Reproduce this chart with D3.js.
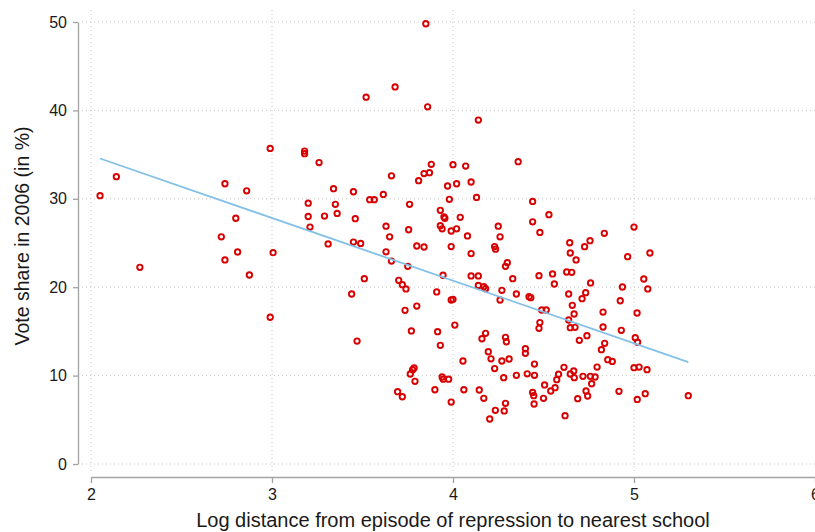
<!DOCTYPE html>
<html>
<head>
<meta charset="utf-8">
<script src="https://cdn.jsdelivr.net/npm/d3@7"></script>
<style>
  html, body { margin: 0; padding: 0; background: #fff; }
  svg { display: block; font-family: "Liberation Sans", Arial, Helvetica, sans-serif; }
</style>
</head>
<body>
<svg id="chart" width="815" height="532"></svg>
<script>
// Log distance to nearest school (x) and 2006 vote share in % (y), one entry per municipality
const logDistance = [
  2.99, 3.18, 3.18, 3.26, 2.14, 2.74, 2.86, 2.05, 3.20, 2.80, 3.20, 3.29, 3.21, 2.72,
  3.85, 3.68, 3.52, 3.86, 4.14, 4.36, 3.88, 4.00, 4.07, 3.66, 3.87, 3.84, 3.81, 4.10,
  3.97, 4.02, 3.34, 3.45, 4.13, 3.615, 3.54, 3.565, 3.98, 4.44, 3.35, 3.76, 3.93, 3.36,
  3.46, 3.95, 3.955, 4.04, 3.63, 3.755, 3.93, 3.94, 3.99, 4.02, 4.25, 4.44, 4.53, 3.65,
  4.08, 4.26, 4.48,
  3.31, 3.45, 3.49, 3.80, 3.84, 3.99, 4.10, 4.23, 4.235, 3.63, 3.66, 3.75, 4.30, 4.29,
  3.51, 3.945, 4.10, 4.14, 4.33, 4.475, 4.55, 4.56, 3.70, 3.72, 3.74, 4.14, 4.17, 4.18,
  4.27, 3.44, 3.91, 3.99, 4.00, 4.35, 4.42, 4.43, 4.26, 3.735, 3.80, 4.49, 4.515, 4.48,
  4.475, 4.01, 3.77, 3.915, 4.18, 4.16, 4.29, 4.295, 3.93, 3.47, 4.40, 4.40, 4.195, 4.21,
  4.27, 4.31, 4.055, 4.23, 4.45, 3.785, 3.777, 3.764, 3.79, 3.94, 3.946, 3.976, 4.28,
  4.35, 4.41, 4.45, 4.583, 4.573, 4.506, 4.44, 4.446, 4.54, 4.564, 4.50, 4.448, 3.694,
  3.72, 3.90, 4.06, 4.145, 4.17, 3.99, 4.29, 4.234, 4.283, 4.203,
  2.81, 3.006, 2.74, 2.27, 2.875, 2.99,
  5.00, 4.836, 4.757, 4.727, 4.645, 4.648, 4.68, 4.965, 5.088, 4.628, 4.656, 4.76, 4.936,
  5.054, 5.076, 4.639, 4.733, 4.713, 4.924, 4.659, 4.669, 4.829, 5.017, 4.639, 4.648,
  4.674, 4.829, 4.93, 4.74, 5.007, 4.698,
  5.02, 4.838, 4.82, 4.855, 4.88, 4.796, 4.613, 5.00, 5.028, 5.072, 4.648, 4.667, 4.67,
  4.718, 4.759, 4.785, 4.766, 4.735, 4.744, 4.689, 4.619, 4.917, 5.062, 5.018, 5.30
];

const voteShare = [
  35.7, 35.4, 35.1, 34.1, 32.5, 31.7, 30.9, 30.35, 29.5, 27.8, 28.0, 28.05, 26.8, 25.7,
  49.8, 42.65, 41.5, 40.4, 38.9, 34.2, 33.9, 33.86, 33.7, 32.6, 32.95, 32.85, 32.05, 31.9,
  31.45, 31.7, 31.15, 30.8, 30.15, 30.5, 29.9, 29.9, 29.94, 29.7, 29.37, 29.37, 28.7, 28.35,
  27.75, 27.94, 27.8, 27.9, 26.9, 26.5, 26.96, 26.6, 26.36, 26.6, 26.9, 27.4, 28.2, 25.7,
  25.8, 25.7, 26.2,
  24.9, 25.1, 24.95, 24.66, 24.55, 24.6, 23.8, 24.6, 24.3, 24.0, 22.96, 22.36, 22.77, 22.36,
  20.96, 21.35, 21.27, 21.27, 20.96, 21.3, 21.5, 20.36, 20.78, 20.28, 19.8, 20.2, 20.06, 19.83,
  19.65, 19.23, 19.46, 18.55, 18.63, 19.23, 18.93, 18.81, 18.55, 17.38, 17.87, 17.42, 17.42, 16.0,
  15.35, 15.72, 15.05, 14.97, 14.78, 14.17, 14.33, 13.83, 13.42, 13.9, 13.04, 12.52, 12.7, 11.9,
  11.65, 11.88, 11.65, 10.8, 11.3, 10.86, 10.67, 10.18, 9.35, 9.84, 9.6, 9.6, 9.76,
  10.03, 10.2, 10.03, 10.15, 9.54, 8.94, 8.1, 7.73, 8.26, 8.63, 7.43, 6.79, 8.18,
  7.61, 8.4, 8.4, 8.37, 7.43, 7.01, 6.86, 6.07, 6.0, 5.09,
  23.98, 23.9, 23.08, 22.25, 21.38, 16.6,
  26.8, 26.1, 25.26, 24.58, 25.03, 23.87, 23.08, 23.45, 23.87, 21.72, 21.68, 20.48, 20.02,
  20.93, 19.8, 19.23, 19.38, 18.7, 18.47, 17.95, 16.97, 17.19, 17.08, 16.29, 15.42,
  15.46, 15.5, 15.12, 14.52, 14.29, 13.99,
  13.77, 13.65, 12.93, 11.8, 11.6, 10.97, 10.94, 10.9, 10.97, 10.67, 10.18, 10.52, 9.76,
  9.92, 9.92, 9.84, 9.08, 8.26, 7.69, 7.39, 5.47, 8.22, 7.96, 7.31, 7.73
];

const xTicks = [2, 3, 4, 5, 6];
const yTicks = [0, 10, 20, 30, 40, 50];
const xTitle = "Log distance from episode of repression to nearest school";
const yTitle = "Vote share in 2006 (in %)";

const points = logDistance.map((x, i) => ({ x, y: voteShare[i] }));

// Ordinary least squares fit of vote share on log distance
const mx = d3.mean(points, d => d.x);
const my = d3.mean(points, d => d.y);
const slope = d3.sum(points, d => (d.x - mx) * (d.y - my)) / d3.sum(points, d => (d.x - mx) ** 2);
const intercept = my - slope * mx;
const [xMin, xMax] = d3.extent(points, d => d.x);
const fitLine = [xMin, xMax].map(x => ({ x, y: intercept + slope * x }));

const svg = d3.select("#chart");
const x = d3.scaleLinear().domain([2, 6]).range([91, 815]);
const y = d3.scaleLinear().domain([0, 50]).range([464, 22]);

const gridColor = "#c9c9c9";
const axisColor = "#a3a3a3";
const textColor = "#1a1a1a";
const fmt = d3.format("d");

// Dotted grid
const grid = svg.append("g");
grid.selectAll("line.h").data(yTicks).join("line")
  .attr("x1", 82).attr("x2", 815)
  .attr("y1", d => y(d)).attr("y2", d => y(d))
  .attr("stroke", gridColor).attr("stroke-width", 1)
  .attr("stroke-dasharray", "1,3");
grid.selectAll("line.v").data(xTicks.filter(d => d < 6)).join("line")
  .attr("x1", d => x(d)).attr("x2", d => x(d))
  .attr("y1", 10).attr("y2", 472)
  .attr("stroke", gridColor).attr("stroke-width", 1)
  .attr("stroke-dasharray", "1,3");

// Y axis
const yAxis = svg.append("g").attr("transform", "translate(78,0)")
  .call(d3.axisLeft(y).tickValues(yTicks).tickFormat(fmt).tickSize(5).tickPadding(6).tickSizeOuter(0));
yAxis.select(".domain").attr("stroke", axisColor).attr("stroke-width", 1.3);
yAxis.selectAll(".tick line").attr("stroke", axisColor).attr("stroke-width", 1.3);
yAxis.selectAll(".tick text").attr("fill", textColor)
  .style("font-size", "16px").style("font-family", "'Liberation Sans', Arial, sans-serif");

// X axis
const xAxis = svg.append("g").attr("transform", "translate(0,477)")
  .call(d3.axisBottom(x).tickValues(xTicks).tickFormat(fmt).tickSize(6).tickPadding(6).tickSizeOuter(0));
xAxis.select(".domain").attr("stroke", axisColor).attr("stroke-width", 1.3);
xAxis.selectAll(".tick line").attr("stroke", axisColor).attr("stroke-width", 1.3);
xAxis.selectAll(".tick text").attr("fill", textColor)
  .style("font-size", "16px").style("font-family", "'Liberation Sans', Arial, sans-serif");

// Axis titles
svg.append("text")
  .attr("x", 453).attr("y", 527)
  .attr("text-anchor", "middle")
  .attr("fill", textColor)
  .style("font-size", "20px")
  .text(xTitle);

svg.append("text")
  .attr("transform", "translate(29,236) rotate(-90)")
  .attr("text-anchor", "middle")
  .attr("fill", textColor)
  .style("font-size", "19.5px")
  .text(yTitle);

// Scatter markers
svg.append("g").selectAll("circle").data(points).join("circle")
  .attr("cx", d => x(d.x)).attr("cy", d => y(d.y))
  .attr("r", 2.7)
  .attr("fill", "none")
  .attr("stroke", "#d80000")
  .attr("stroke-width", 1.9);

// Fitted line
svg.append("path")
  .datum(fitLine)
  .attr("d", d3.line().x(d => x(d.x)).y(d => y(d.y)))
  .attr("fill", "none")
  .attr("stroke", "#82c0e8")
  .attr("stroke-width", 1.8);
</script>
</body>
</html>
